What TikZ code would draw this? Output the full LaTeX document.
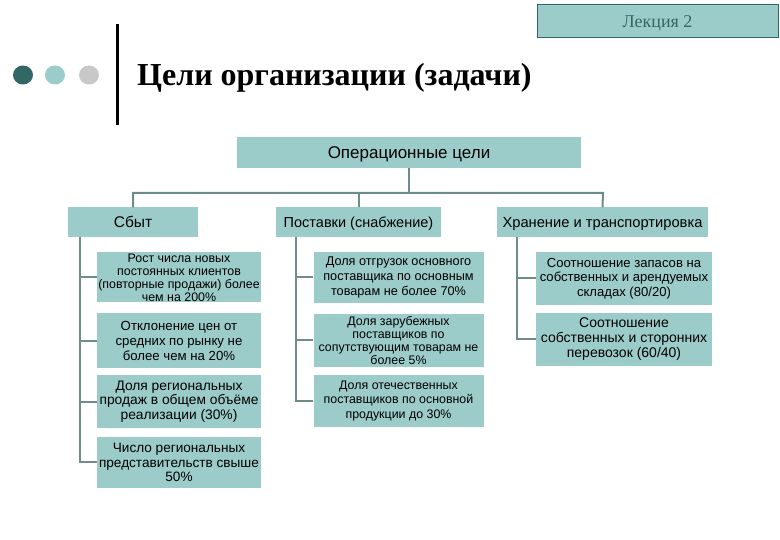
\documentclass[tikz,border=0pt]{standalone}
\usepackage{fontspec}
\setmainfont{Liberation Serif}
\setsansfont{Liberation Sans}
\definecolor{boxteal}{HTML}{9CCCC9}
\definecolor{darkteal}{HTML}{336666}
\definecolor{linegray}{HTML}{6E8C8A}
\definecolor{circgray}{HTML}{C8C8C8}
\newcommand{\capmid}[2]{\raisebox{-#1pt}[0pt][0pt]{#2}}
\tikzset{
  tbox/.style={fill=boxteal, draw=none, inner sep=0pt, align=center, font=\sffamily},
  conn/.style={draw=linegray, line width=2pt},
}
\begin{document}
\begin{tikzpicture}[x=1pt,y=-1pt]
\useasboundingbox (0,0) rectangle (780,540);
% header
\node[fill=boxteal, draw=darkteal, line width=0.8pt, minimum width=241pt, minimum height=33pt, inner sep=0pt, text=darkteal, font=\fontsize{18}{20}\selectfont] (lec) at (657.5,20.5) {\capmid{7}{Лекция 2}};
\draw[line width=3pt] (117.5,24) coordinate (vl1) -- (117.5,125) coordinate (vl2);
\fill[darkteal] (23,75) ellipse (10 and 9.5);
\fill[boxteal] (55,75) ellipse (10 and 9.5);
\fill[circgray] (89,75) ellipse (10 and 9.5);
\node[anchor=west, inner sep=0pt, font=\fontsize{32}{36}\selectfont\bfseries] (title) at (137,78) {Цели организации (задачи)};
% level 1
\node[tbox, minimum width=344pt, minimum height=31pt, font=\sffamily\fontsize{17}{19}\selectfont] (op) at (409,152.5) {\capmid{6.5}{Операционные цели}};
% level 2
\node[tbox, minimum width=130pt, minimum height=30pt, font=\sffamily\fontsize{15.5}{17}\selectfont] (sb) at (133,222.5) {\capmid{5.3}{Сбыт}};
\node[tbox, minimum width=165pt, minimum height=30pt, font=\sffamily\fontsize{14.5}{17}\selectfont] (ps) at (358.5,222.5) {\capmid{5.2}{Поставки (снабжение)}};
\node[tbox, minimum width=211pt, minimum height=30pt, font=\sffamily\fontsize{14.7}{17}\selectfont] (hr) at (602.5,222.5) {\capmid{5.3}{Хранение и транспортировка}};
\coordinate (jn) at (409,193);
\draw[conn] (op.south) -- (jn);
\draw[conn] (sb.north) -- (133,193) -- (603,193) -- (hr.north);
\draw[conn] (ps.north) -- (358.5,193);
% column 1
\node[tbox, minimum width=164pt, minimum height=50pt, font=\sffamily\fontsize{12.4}{13}\selectfont] (a1) at (179,277.5) {Рост числа новых\\постоянных клиентов\\(повторные продажи) более\\чем на 200\%};
\node[tbox, minimum width=164pt, minimum height=55pt, font=\sffamily\fontsize{13.2}{14.6}\selectfont] (a2) at (179,341) {Отклонение цен от\\средних по рынку не\\более чем на 20\%};
\node[tbox, minimum width=164pt, minimum height=53pt, font=\sffamily\fontsize{13.8}{14.6}\selectfont] (a3) at (179,401.5) {Доля региональных\\продаж в общем объёме\\реализации (30\%)};
\node[tbox, minimum width=164pt, minimum height=51pt, font=\sffamily\fontsize{13.6}{14.2}\selectfont] (a4) at (179,462.5) {Число региональных\\представительств свыше\\50\%};
\coordinate (c1) at (80,237);
\coordinate (c1e) at (80,462);
\draw[conn] (c1) -- (c1e) -- (a4.west |- c1e);
\draw[conn] (c1 |- a1.west) -- (a1.west);
\draw[conn] (c1 |- a2.west) -- (a2.west);
\draw[conn] (c1 |- a3.west) -- (a3.west);
% column 2
\node[tbox, minimum width=170pt, minimum height=51pt, font=\sffamily\fontsize{12.7}{14.8}\selectfont] (b1) at (398.5,277.5) {Доля отгрузок основного\\поставщика по основным\\товарам не более 70\%};
\node[tbox, minimum width=170pt, minimum height=53pt, font=\sffamily\fontsize{12.4}{13.3}\selectfont] (b2) at (398.5,340.5) {Доля зарубежных\\поставщиков по\\сопутствующим товарам не\\более 5\%};
\node[tbox, minimum width=170pt, minimum height=52pt, font=\sffamily\fontsize{12.4}{14.2}\selectfont] (b3) at (398.5,401) {Доля отечественных\\поставщиков по основной\\продукции до 30\%};
\coordinate (c2) at (296,237);
\draw[conn] (c2) -- (c2 |- b3.west) -- (b3.west);
\draw[conn] (c2 |- b1.west) -- (b1.west);
\draw[conn] (c2 |- b2.west) -- (b2.west);
% column 3
\node[tbox, minimum width=176pt, minimum height=53pt, font=\sffamily\fontsize{13.1}{14.6}\selectfont] (d1) at (624,278.5) {Соотношение запасов на\\собственных и арендуемых\\складах (80/20)};
\node[tbox, minimum width=176pt, minimum height=53pt, font=\sffamily\fontsize{14}{15}\selectfont] (d2) at (624,339.5) {Соотношение\\собственных и сторонних\\перевозок (60/40)};
\coordinate (c3) at (517,237);
\draw[conn] (c3) -- (c3 |- d2.west) -- (d2.west);
\draw[conn] (c3 |- d1.west) -- (d1.west);
\end{tikzpicture}
\end{document}
